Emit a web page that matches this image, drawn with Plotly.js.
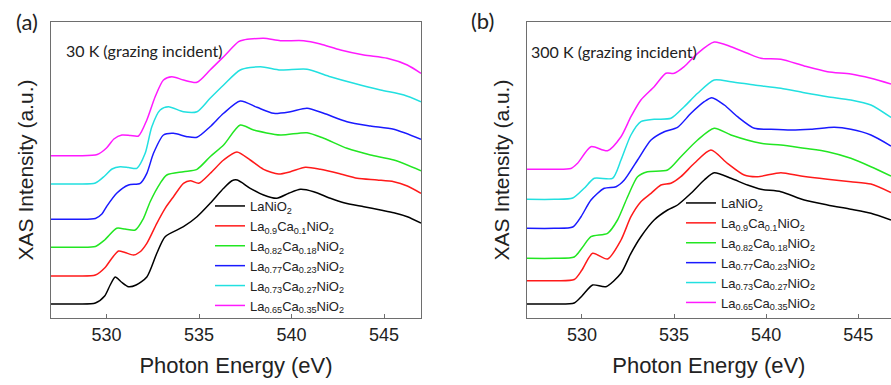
<!DOCTYPE html>
<html>
<head>
<meta charset="utf-8">
<script src="https://cdn.plot.ly/plotly-3.0.1.min.js"></script>
<style>html,body{margin:0;padding:0;background:#fff;}#chart{width:891px;height:385px;}</style>
</head>
<body>
<div id="chart"></div>
<script>
// ---- series names and colours ----
const seriesNames = [
  'LaNiO<sub>2</sub>',
  'La<sub>0.9</sub>Ca<sub>0.1</sub>NiO<sub>2</sub>',
  'La<sub>0.82</sub>Ca<sub>0.18</sub>NiO<sub>2</sub>',
  'La<sub>0.77</sub>Ca<sub>0.23</sub>NiO<sub>2</sub>',
  'La<sub>0.73</sub>Ca<sub>0.27</sub>NiO<sub>2</sub>',
  'La<sub>0.65</sub>Ca<sub>0.35</sub>NiO<sub>2</sub>'
];
const seriesColors = ['#000000', '#ff1a1a', '#22e622', '#1a1aff', '#22e0e0', '#ff1aff'];
const tickValues = [530, 535, 540, 545];

// ---- panel (a): 30 K, stacked (offset) intensities in arbitrary units ----
const eA_x0  = [527, 528.5, 529.4, 529.9, 530.2, 530.47, 530.8, 531.19, 531.6, 532.18, 532.72, 533.17, 534.16, 534.89, 535.6, 536.33, 536.78, 537.07, 537.77, 538.49, 539.2, 539.85, 540.48, 541.2, 542.1, 542.83, 543.91, 544.81, 545.53, 546.26, 547];
const iA_x0  = [14, 14, 15, 22, 33, 41, 36, 31.3, 33, 41, 64.7, 81.3, 91.3, 101.3, 114.7, 129.7, 137.3, 138, 129.7, 123, 119.7, 124.7, 128.7, 126.3, 119.7, 115.3, 111.3, 108, 105.3, 101.3, 95];
const eA_x10 = [527, 528.5, 529.4, 529.9, 530.3, 530.65, 531.0, 531.46, 531.8, 532.18, 532.72, 533.17, 533.62, 534.16, 534.53, 534.98, 535.61, 536.33, 537.05, 537.77, 538.49, 539.3, 539.94, 540.75, 541.56, 542.65, 543.55, 544.63, 545.53, 546.26, 547];
const iA_x10 = [42, 42, 43, 50, 60, 67, 65.5, 63, 66, 74.7, 94.7, 109.7, 121.3, 134.7, 137.3, 134.7, 144.7, 158, 166, 158, 148.7, 144, 146.3, 150.7, 148.7, 144, 139.7, 138, 136.3, 132, 124.7];
const eA_x18 = [527, 528.5, 529.4, 529.9, 530.55, 531.0, 531.55, 532.0, 532.36, 532.9, 533.26, 534.16, 534.89, 535.6, 536.33, 537.23, 537.95, 539.4, 540.84, 541.74, 543.0, 544.27, 545.53, 547];
const iA_x18 = [70.7, 70.7, 71.5, 78, 89.7, 89, 88, 99.7, 116.3, 134.7, 143, 146.3, 148.7, 161.3, 173, 193, 188, 183, 185.3, 179.7, 169.7, 163, 158, 147.3];
const eA_x23 = [527, 528.5, 529.4, 529.75, 530.0, 530.55, 531.19, 531.82, 532.18, 532.54, 533.08, 533.62, 534.35, 534.89, 535.6, 536.33, 537.23, 538.13, 539.03, 539.94, 540.84, 541.74, 543.0, 544.27, 545.53, 547];
const iA_x23 = [98.7, 98.7, 99.5, 104, 111.3, 124.7, 133, 134.7, 144.7, 164.7, 183, 184.7, 181.3, 180.7, 191.3, 204.7, 217, 210.7, 204.7, 206.3, 209.7, 204.7, 196.3, 192, 188.7, 178.7];
const eA_x27 = [527, 528.5, 529.4, 529.9, 530.3, 530.74, 531.2, 531.64, 532.09, 532.45, 532.9, 533.35, 534.16, 534.89, 535.6, 536.33, 537.23, 538.32, 539.4, 540.84, 542.1, 543.37, 544.81, 546.08, 547];
const iA_x27 = [134, 134, 135, 142, 149, 151.3, 150.5, 149.7, 164.7, 191.3, 208, 211.3, 206.3, 206.3, 219.7, 233, 248, 251.3, 248, 248.7, 241.3, 234.7, 228, 223, 216.3];
const eA_x35 = [527, 528.5, 529.5, 530.0, 530.4, 530.83, 531.3, 531.73, 532.18, 532.63, 533.08, 533.53, 534.16, 534.89, 535.6, 536.33, 537.14, 537.41, 538.49, 539.4, 540.66, 541.56, 542.65, 543.91, 545.17, 546.26, 547];
const iA_x35 = [162.3, 162.3, 163.5, 170, 179, 183, 182.5, 182, 198, 221.3, 238, 241.3, 238, 235.7, 248, 261.3, 276.3, 278, 279.7, 277.3, 277.3, 274, 268, 263, 259.7, 253, 244.7];

// ---- panel (b): 300 K ----
const eB_x0  = [527, 528.5, 529.58, 530.0, 530.58, 531.3, 532.12, 532.66, 533.2, 533.92, 534.65, 535.19, 535.92, 536.64, 537.18, 538.09, 538.99, 539.72, 540.8, 542.07, 543.33, 544.6, 545.69, 546.78];
const iB_x0  = [14, 14, 15, 22, 33, 31.3, 44.7, 64.7, 81.3, 98, 108, 113, 124.7, 138, 145.3, 139.7, 133, 128.7, 126.3, 118, 113, 108.7, 104.7, 98];
const eB_x10 = [527, 528.5, 529.58, 530.0, 530.58, 531.39, 532.12, 532.66, 533.2, 533.75, 534.29, 534.83, 535.37, 536.1, 537.0, 537.9, 538.81, 539.53, 540.8, 541.89, 543.33, 544.6, 545.69, 546.78];
const iB_x10 = [37.3, 37.3, 38.5, 48, 64.7, 59, 78, 101.3, 116.3, 124.7, 133, 134.7, 141.3, 154.7, 168, 154.7, 143, 141.3, 145.3, 142, 138.7, 136.3, 134, 125.5];
const eB_x18 = [527, 528.5, 529.58, 530.0, 530.49, 531.39, 531.93, 532.48, 533.02, 533.56, 534.65, 535.37, 536.28, 537.18, 538.09, 539.72, 540.8, 542.07, 543.33, 544.6, 545.69, 546.78];
const iB_x18 = [59.7, 59.7, 61, 70, 81.3, 84.7, 98, 121.3, 141.3, 146.3, 148, 161.3, 178, 189.7, 183, 174.7, 173, 169.7, 166.3, 159.7, 151.3, 142];
const eB_x23 = [527, 528.5, 529.5, 529.95, 530.49, 531.21, 531.85, 532.3, 533.02, 533.75, 534.47, 535.19, 535.92, 536.64, 537.05, 537.73, 538.45, 539.36, 540.26, 541.35, 542.43, 543.7, 544.6, 545.69, 546.78];
const iB_x23 = [89.7, 89.7, 91, 101.3, 118, 129.7, 131.3, 138, 158, 178, 186.3, 190.7, 204.7, 216.3, 220.3, 213, 201.3, 189.7, 188.7, 188, 188.7, 190.7, 188.7, 183, 172];
const eB_x27 = [527, 528.5, 529.5, 530.12, 530.67, 531.66, 532.12, 532.66, 533.2, 533.92, 534.83, 535.55, 536.28, 537.18, 538.09, 539.36, 540.8, 542.07, 543.33, 544.6, 545.69, 546.78];
const iB_x27 = [118.7, 118.7, 120, 129.7, 139.7, 139.7, 158, 183, 196.3, 198.7, 199.7, 211.3, 224.7, 238, 236.3, 233, 229.7, 225.3, 221.3, 218, 213, 200.5];
const eB_x35 = [527, 528.5, 529.4, 529.76, 530.49, 531.39, 532.12, 532.66, 533.2, 533.92, 534.56, 535.01, 535.55, 536.28, 537.18, 538.09, 538.99, 539.72, 540.8, 542.07, 543.33, 544.6, 545.69, 546.78];
const iB_x35 = [148.7, 148.7, 149.5, 154.7, 171.3, 167.3, 181.3, 201.3, 218, 231.3, 244.7, 244.7, 251.3, 264.7, 276, 271.3, 264.7, 259.7, 258.7, 252, 246.3, 244, 239.7, 234];

const panelA = [[eA_x0, iA_x0], [eA_x10, iA_x10], [eA_x18, iA_x18], [eA_x23, iA_x23], [eA_x27, iA_x27], [eA_x35, iA_x35]];
const panelB = [[eB_x0, iB_x0], [eB_x10, iB_x10], [eB_x18, iB_x18], [eB_x23, iB_x23], [eB_x27, iB_x27], [eB_x35, iB_x35]];

const traces = [];
panelA.forEach((s, i) => traces.push({
  x: s[0], y: s[1], xaxis: 'x', yaxis: 'y', type: 'scatter', mode: 'lines',
  name: seriesNames[i], legend: 'legend',
  line: {color: seriesColors[i], width: 1.5, shape: 'spline', smoothing: 0.7}
}));
panelB.forEach((s, i) => traces.push({
  x: s[0], y: s[1], xaxis: 'x2', yaxis: 'y2', type: 'scatter', mode: 'lines',
  name: seriesNames[i], legend: 'legend2',
  line: {color: seriesColors[i], width: 1.5, shape: 'spline', smoothing: 0.7}
}));

const W = 891, H = 385;
const frame = '#6e6e6e';
const sansFamily = '"Liberation Sans", Arial, sans-serif';
const tickFont = {family: sansFamily, size: 18, color: '#222'};
const titleFont = {family: sansFamily, size: 22, color: '#222'};
const yDomain = [(H - 318) / H, (H - 22) / H];

function xAxis(domain, range) {
  return {
    domain: domain, range: range, tickvals: tickValues, ticks: 'inside', ticklen: 4,
    tickcolor: frame, showline: true, linecolor: frame, linewidth: 1, mirror: true,
    showgrid: false, zeroline: false, tickfont: tickFont,
    title: {text: 'Photon Energy (eV)', font: titleFont, standoff: 14}
  };
}
function yAxis(mirror) {
  return {
    domain: yDomain, range: [0, 296], showticklabels: false, ticks: '',
    showline: true, linecolor: frame, linewidth: 1, mirror: mirror,
    showgrid: false, zeroline: false,
    title: {text: 'XAS Intensity (a.u.)', font: {family: sansFamily, size: 21, color: '#222'}, standoff: 10}
  };
}
const legendFont = {family: sansFamily, size: 13, color: '#222'};
const calFamily = 'Lato, "Open Sans", sans-serif';

const layout = {
  width: W, height: H,
  margin: {l: 0, r: 0, t: 0, b: 0},
  paper_bgcolor: '#fff', plot_bgcolor: '#fff',
  showlegend: true,
  xaxis: xAxis([51 / W, 421 / W], [527, 547]),
  yaxis: yAxis(true),
  xaxis2: Object.assign(xAxis([526.7 / W, 1], [527, 546.78]), {anchor: 'y2'}),
  yaxis2: Object.assign(yAxis(false), {anchor: 'x2'}),
  legend: {x: 210 / W, y: (H - 191) / H, xanchor: 'left', yanchor: 'top',
    bgcolor: 'rgba(0,0,0,0)', borderwidth: 0, font: legendFont, tracegroupgap: 0},
  legend2: {x: 681 / W, y: (H - 188) / H, xanchor: 'left', yanchor: 'top',
    bgcolor: 'rgba(0,0,0,0)', borderwidth: 0, font: legendFont, tracegroupgap: 0},
  annotations: [
    {text: '(a)', xref: 'paper', yref: 'paper', x: 27 / W, y: (H - 21) / H, xanchor: 'center', yanchor: 'middle',
      showarrow: false, font: {family: calFamily, size: 22, color: '#222'}},
    {text: '(b)', xref: 'paper', yref: 'paper', x: 482 / W, y: (H - 20) / H, xanchor: 'center', yanchor: 'middle',
      showarrow: false, font: {family: calFamily, size: 22, color: '#222'}},
    {text: '30 K (grazing incident)', xref: 'paper', yref: 'paper', x: 64 / W, y: (H - 50) / H, xanchor: 'left', yanchor: 'middle',
      showarrow: false, font: {family: calFamily, size: 16, color: '#222'}},
    {text: '300 K (grazing incident)', xref: 'paper', yref: 'paper', x: 529 / W, y: (H - 51) / H, xanchor: 'left', yanchor: 'middle',
      showarrow: false, font: {family: calFamily, size: 16, color: '#222'}}
  ]
};

Plotly.newPlot('chart', traces, layout, {displayModeBar: false, staticPlot: true});
</script>
</body>
</html>
